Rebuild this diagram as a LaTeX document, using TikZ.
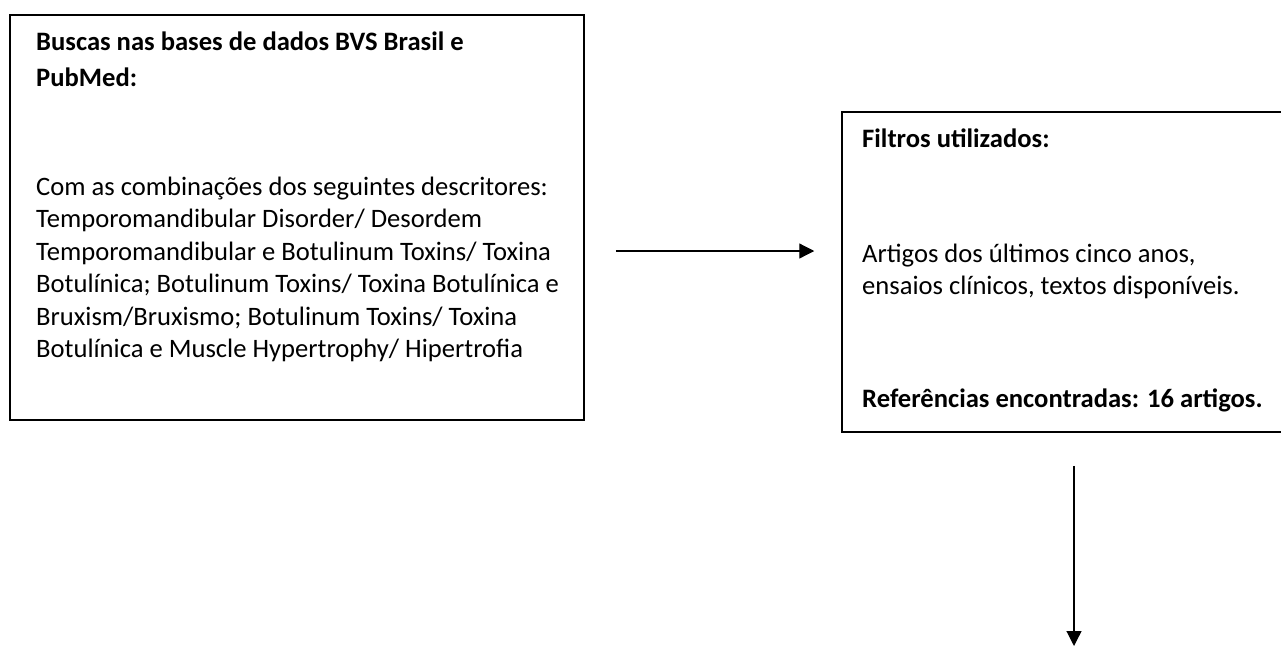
\documentclass[tikz,border=0pt]{standalone}
\usepackage{fontspec}
\setmainfont{Carlito}
\usetikzlibrary{arrows.meta}

\newcommand{\flowfont}{\fontsize{26.6pt}{32.5pt}\selectfont}

\begin{document}
\begin{tikzpicture}[x=1pt, y=-1pt,
    frame/.style={draw, line width=1.5pt, inner sep=0pt},
    flow/.style={line width=1.2pt, -{Triangle[length=15pt, width=15pt]}},
    txt/.style={anchor=base west, inner sep=0pt}]
    \useasboundingbox (0,0) rectangle (1281,646);
    \clip (0,0) rectangle (1281,646);

    % search box
    \node[frame, minimum width=574pt, minimum height=405pt] (search) at (297,217.5) {};
    \node[txt] (searchtxt) at (36,50) {\parbox[t]{560pt}{\raggedright\flowfont
        \textbf{Buscas nas bases de dados BVS Brasil e}\\[3.5pt]
        \textbf{PubMed:}\\[76.5pt]
        Com as combinações dos seguintes descritores:\\
        Temporomandibular Disorder/ Desordem\\
        Temporomandibular e Botulinum Toxins/ Toxina\\
        Botulínica; Botulinum Toxins/ Toxina Botulínica e\\
        Bruxism/Bruxismo; Botulinum Toxins/ Toxina\\
        Botulínica e Muscle Hypertrophy/ Hipertrofia}};

    % filter box
    \node[frame, minimum width=448pt, minimum height=320pt] (filter) at (1066,272) {};
    \node[txt] (filtertxt) at (862,147) {\parbox[t]{430pt}{\raggedright\flowfont
        \textbf{Filtros utilizados:}\\[82.5pt]
        Artigos dos últimos cinco anos,\\
        ensaios clínicos, textos disponíveis.\\[80.5pt]
        \textbf{Referências encontradas: 16 artigos.}}};

    % arrows
    \coordinate (mid) at (0,251);
    \coordinate (end) at (1074,646);
    \draw[flow, shorten <=31pt, shorten >=27pt] (search.east |- mid) -- (filter.west |- mid);
    \draw[flow, shorten <=33pt] (filter.south -| end) -- (end);
\end{tikzpicture}
\end{document}
